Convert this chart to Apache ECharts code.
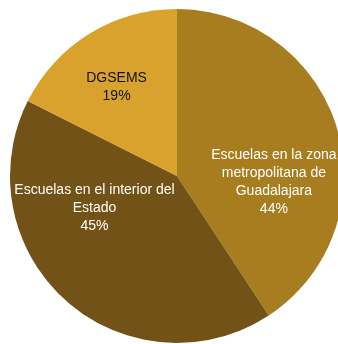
<!DOCTYPE html>
<html>
<head>
<meta charset="utf-8">
<script src="https://cdn.jsdelivr.net/npm/echarts@6/dist/echarts.min.js"></script>
<style>
  html, body { margin: 0; padding: 0; background: #fff; }
  #chart { width: 338px; height: 344px; }
</style>
</head>
<body>
<div id="chart"></div>
<script>
// Distribution of schools (percent)
const categories = [
  'Escuelas en la zona\nmetropolitana de\nGuadalajara',
  'Escuelas en el interior del\nEstado',
  'DGSEMS'
];
const values = [44, 45, 19];

const sliceColors = ['#A77D20', '#725216', '#D9A22C'];
const labelColors = ['#ffffff', '#ffffff', '#111111'];
const labelOffsets = [[14, 31], [-25, -32], [-15, -15]];

const chart = echarts.init(document.getElementById('chart'));
chart.setOption({
  animation: false,
  series: [{
    type: 'pie',
    center: [177, 176],
    radius: [0, 167],
    startAngle: 90,
    clockwise: true,
    silent: true,
    label: {
      position: 'inside',
      formatter: '{b}\n{c}%',
      fontFamily: '"Liberation Sans Narrow", "Arial Narrow", "Liberation Sans", Arial, sans-serif',
      fontSize: 14,
      lineHeight: 18,
      align: 'center'
    },
    labelLine: { show: false },
    itemStyle: { borderWidth: 0 },
    data: categories.map((name, i) => ({
      name: name,
      value: values[i],
      itemStyle: { color: sliceColors[i] },
      label: { color: labelColors[i], offset: labelOffsets[i] }
    }))
  }]
});
</script>
</body>
</html>
